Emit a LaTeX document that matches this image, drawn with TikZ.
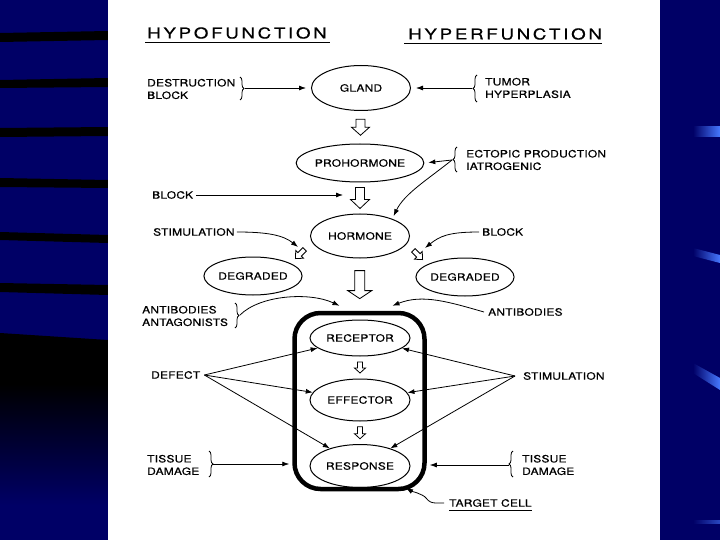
\documentclass[tikz,border=0pt]{standalone}
\usepackage{fontspec}
\usetikzlibrary{shapes.geometric,arrows.meta,decorations.pathreplacing,calc}

\newfontfamily\diagfont[FakeStretch=1.2, LetterSpace=2, FakeBold=0.6]{TeX Gyre Heros}
\newfontfamily\headfont[FakeStretch=1.25, LetterSpace=18, FakeBold=0.4]{TeX Gyre Heros}
\newcommand\lblfont{\diagfont\fontsize{10}{12.5}\selectfont}

\definecolor{slidenavy}{RGB}{0,0,102}
\definecolor{streakblue}{RGB}{70,120,255}

\tikzset{
  organ/.style={draw, ellipse, line width=1pt, inner sep=0pt,
    minimum width=99pt, minimum height=42pt, font=\lblfont},
  cause/.style={anchor=west, align=left, inner sep=0pt, font=\lblfont},
  heading/.style={anchor=west, inner sep=0pt,
    font=\headfont\fontsize{15}{18}\selectfont},
  link/.style={line width=0.8pt, -{Latex[length=7pt,width=5pt]}},
  clamp/.style={line width=0.8pt, decorate, decoration={brace, amplitude=4pt}},
  % hollow block arrow: length, head length, head width, shaft width
  pics/hollow/.style n args={4}{code={
    \draw[line width=0.8pt, fill=white, line join=miter]
      (-#4/2,-#1/2) -- (-#4/2,#1/2-#2) -- (-#3/2,#1/2-#2) -- (0,#1/2)
      -- (#3/2,#1/2-#2) -- (#4/2,#1/2-#2) -- (#4/2,-#1/2) -- cycle;
  }}
}

\begin{document}
\begin{tikzpicture}[x=1pt, y=-1pt]
  \useasboundingbox (0,0) rectangle (720,540);

  % fond de la diapositive
  \fill[slidenavy] (0,0) rectangle (720,540);
  \foreach \ya/\yb/\yc/\yd in {33/42/31/40, 80/88/78/87, 128/137/127/136,
                               178/187/180/188, 232/240/235/243, 283/292/285/295} {
    \fill[black] (0,\ya) -- (108,\yc) -- (108,\yd) -- (0,\yb) -- cycle;
  }
  \fill[black] (0,333) -- (108,340) -- (108,385) -- (0,385) -- cycle;
  \shade[top color=black, bottom color=slidenavy] (0,384) rectangle (108,505);
  \shade[left color=slidenavy, right color=streakblue] (693,127) rectangle (720,137);
  \shade[left color=slidenavy, right color=streakblue] (693,248) -- (720,255) -- (720,263) -- (693,256) -- cycle;
  \shade[left color=slidenavy, right color=streakblue] (693,363) -- (720,378) -- (720,390) -- (693,373) -- cycle;
  \shade[left color=slidenavy, right color=streakblue!60!slidenavy] (693,520) rectangle (720,523);
  \fill[white] (108,0) rectangle (660,540);

  % titres
  \node[heading] (hypo) at (147,33) {HYPOFUNCTION};
  \node[heading] (hyper) at (408,34) {HYPERFUNCTION};
  \draw[line width=0.9pt] ([xshift=-2pt,yshift=-4pt]hypo.south west) -- ([xshift=3pt,yshift=-4pt]hypo.south east);
  \draw[line width=0.9pt] ([xshift=-4pt,yshift=-4pt]hyper.south west) -- ([xshift=0pt,yshift=-4pt]hyper.south east);

  % cellule cible
  \node[draw, line width=4.5pt, rounded corners=26pt, minimum width=130pt,
        minimum height=176pt] (cell) at (359.5,401) {};

  % chaine hormonale
  \node[organ, minimum height=45pt] (gland) at (361,88) {GLAND};
  \node[organ, minimum height=38pt] (pro) at (360,163) {PROHORMONE};
  \node[organ, minimum height=44pt] (hormone) at (360,236) {HORMONE};
  \node[organ, minimum width=89pt, minimum height=38pt] (degL) at (253,276) {DEGRADED};
  \node[organ, minimum width=90pt, minimum height=38pt] (degR) at (465,277) {DEGRADED};
  \node[organ, minimum width=100pt, minimum height=36pt] (receptor) at (360,338) {RECEPTOR};
  \node[organ, minimum width=100pt, minimum height=42pt] (effector) at (360,400) {EFFECTOR};
  \node[organ, minimum width=100pt, minimum height=43pt] (response) at (360,466) {RESPONSE};

  % fleches creuses
  \coordinate (a1) at ($(gland.south)!0.5!(pro.north)$);
  \coordinate (a2) at ($(pro.south)!0.5!(hormone.north)$);
  \coordinate (a3) at ($(hormone.south)!0.5!(cell.north)$);
  \coordinate (a4) at ($(receptor.south)!0.5!(effector.north)$);
  \coordinate (a5) at ($(effector.south)!0.5!(response.north)$);
  \coordinate (dl) at (300,254);
  \coordinate (dr) at (418,255);
  \pic at (a1) {hollow={16}{8}{18}{9}};
  \pic at (a2) {hollow={21}{9}{19}{9}};
  \pic at (a3) {hollow={28}{8}{24}{10}};
  \pic at (a4) {hollow={11}{5}{11}{5}};
  \pic at (a5) {hollow={12}{5}{11}{5}};
  \pic[rotate=-45] at (dl) {hollow={13}{6}{11}{5}};
  \pic[rotate=45] at (dr) {hollow={13}{6}{11}{5}};

  % causes a gauche
  \node[cause] (destr) at (147,89) {DESTRUCTION\\BLOCK};
  \draw[clamp] (240,77) -- (240,100);
  \coordinate (destrtip) at (245,88);
  \draw[link, shorten >=5pt] (destrtip) -- (gland.west);

  \node[cause] (blk) at (152,195) {BLOCK};
  \draw[link] ([xshift=3pt]blk.east) -- ($(a2)+(-17,-3)$);

  \node[cause] (stimL) at (153,232) {STIMULATION};
  \draw[link] ([xshift=2pt]stimL.east) .. controls +(30,0) and +(-15,-12) .. ($(dl)+(-2,-7)$);

  \node[cause] (abL) at (142,316) {ANTIBODIES\\ANTAGONISTS};
  \draw[clamp] (235,303) -- (235,328);
  \coordinate (abLtip) at (240,315);
  \draw[link] (abLtip) .. controls +(20,-20) and +(-30,-14) .. ([xshift=-20pt,yshift=5pt]cell.north);

  \node[cause] (defect) at (151,375) {DEFECT};
  \foreach \t in {receptor,effector,response}
    \draw[link] ([xshift=4pt]defect.east) -- (\t);

  \node[cause] (tissL) at (147,465) {TISSUE\\DAMAGE};
  \draw[clamp] (209,451) -- (209,477);
  \coordinate (tissLtip) at (213,464);
  \draw[link, shorten >=3pt] (tissLtip) -- (tissLtip -| cell.west);

  % causes a droite
  \node[cause] (tumor) at (485,88) {TUMOR\\HYPERPLASIA};
  \draw[clamp] (477,102) -- (477,75);
  \coordinate (tumortip) at (472,88);
  \draw[link, shorten >=5pt] (tumortip) -- (gland.east);

  \node[cause] (ecto) at (466,160) {ECTOPIC PRODUCTION\\IATROGENIC};
  \draw[clamp] (457,172) -- (457,147);
  \coordinate (ectotip) at (452,160);
  \draw[link, shorten >=4pt] (ectotip) -- (pro.east);
  \draw[link, shorten >=3pt] (ectotip) .. controls +(-25,20) and +(12,-25) .. (hormone.28);

  \node[cause] (blkR) at (482,232) {BLOCK};
  \draw[link] ([xshift=-3pt]blkR.west) .. controls +(-30,0) and +(15,-12) .. ($(dr)+(7,-7)$);

  \node[cause] (abR) at (488,312) {ANTIBODIES};
  \draw[link] ([xshift=-4pt]abR.west) .. controls +(-35,-10) and +(30,-12) .. ([xshift=33pt,yshift=5pt]cell.north);

  \node[cause] (stimR) at (523,376) {STIMULATION};
  \foreach \t in {receptor,effector,response}
    \draw[link] ([xshift=-8pt]stimR.west) -- (\t);

  \node[cause] (tissR) at (522,465) {TISSUE\\DAMAGE};
  \draw[clamp] (513,477) -- (513,451);
  \coordinate (tissRtip) at (509,465);
  \draw[link, shorten >=3pt] (tissRtip) -- (tissRtip -| cell.east);

  \node[cause] (tgt) at (449,503) {TARGET CELL};
  \draw[line width=0.8pt] ([yshift=-3pt]tgt.south west) -- ([yshift=-3pt]tgt.south east);
  \draw[link] ([xshift=-5pt]tgt.west) -- ++(-8,0) .. controls +(-4,0) and +(3,4) .. ++(-10,-5)
    .. controls +(-3,-4) and +(5,3) .. ++(-20,-10);
\end{tikzpicture}
\end{document}
